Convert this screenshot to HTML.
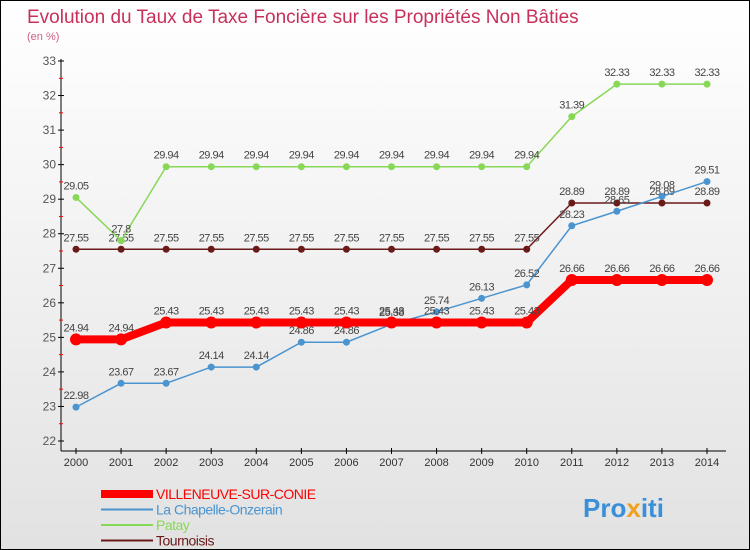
<!DOCTYPE html>
<html><head><meta charset="utf-8"><style>
body{margin:0}
#c{width:750px;height:550px;position:relative;border:1px solid #000;box-sizing:border-box;background:linear-gradient(#fff,#e2e2e2);overflow:hidden;font-family:"Liberation Sans",sans-serif}
</style></head><body>
<div id="c">
<svg id="s" width="750" height="550" style="position:absolute;left:0;top:0">
<text x="26" y="22" font-size="19" fill="#c8305a">Evolution du Taux de Taxe Foncière sur les Propriétés Non Bâties</text>
<text x="26" y="39" font-size="11" fill="#d0608a">(en %)</text>
<g id="axes"></g><g id="series"></g><g id="legend"></g>
<text x="582" y="516" font-size="26" font-weight="bold" fill="#3a8fd8">Pro<tspan fill="#f0a020">x</tspan>iti</text>
</svg>
</div>
<script>
const years=[2000,2001,2002,2003,2004,2005,2006,2007,2008,2009,2010,2011,2012,2013,2014];
const villeneuve=[24.94,24.94,25.43,25.43,25.43,25.43,25.43,25.43,25.43,25.43,25.43,26.66,26.66,26.66,26.66];
const chapelle=[22.98,23.67,23.67,24.14,24.14,24.86,24.86,25.38,25.74,26.13,26.52,28.23,28.65,29.08,29.51];
const patay=[29.05,27.8,29.94,29.94,29.94,29.94,29.94,29.94,29.94,29.94,29.94,31.39,32.33,32.33,32.33];
const tournoisis=[27.55,27.55,27.55,27.55,27.55,27.55,27.55,27.55,27.55,27.55,27.55,28.89,28.89,28.89,28.89];
const yTicks=[22,23,24,25,26,27,28,29,30,31,32,33];
const seriesNames=["VILLENEUVE-SUR-CONIE","La Chapelle-Onzerain","Patay","Tournoisis"];
const NS="http://www.w3.org/2000/svg";
const X=i=>75+i*(706-75)/(years.length-1);
const Y=v=>440-(v-22)*(380/11);
function mk(t,a,p){const e=document.createElementNS(NS,t);for(const k in a)e.setAttribute(k,a[k]);p.appendChild(e);return e;}
const ax=document.getElementById('axes');
let yl=mk('line',{x1:60,y1:58,x2:60,y2:450,stroke:'#000'},ax);


let xl=mk('line',{x1:60,y1:450,x2:725,y2:450,stroke:'#000'},ax);


yTicks.forEach(v=>{
 mk('line',{x1:57,y1:Y(v),x2:63,y2:Y(v),stroke:'#000'},ax);
 if(v<33)mk('line',{x1:58,y1:Y(v+0.5),x2:62,y2:Y(v+0.5),stroke:'#f00'},ax);
 const t=mk('text',{x:55,y:Y(v)+4,'font-size':12,fill:'#555','text-anchor':'end'},ax);t.textContent=v;
 
 
});
years.forEach((y,i)=>{
 mk('line',{x1:X(i),y1:447,x2:X(i),y2:453,stroke:'#000'},ax);
 const t=mk('text',{x:X(i),y:465,'font-size':11,fill:'#333','text-anchor':'middle'},ax);t.textContent=y;
 
 
});
const sg=document.getElementById('series');
function draw(data,color,w,r,name){
 const g=mk('g',{},sg);
 
 
 mk('polyline',{points:data.map((v,i)=>X(i)+','+Y(v)).join(' '),fill:'none',stroke:color,'stroke-width':w},g);
 data.forEach((v,i)=>{
  const c=mk('circle',{cx:X(i),cy:Y(v),r:r,fill:color},g);
  
  
  const t=mk('text',{x:X(i),y:Y(v)-8,'font-size':11,fill:'#444','text-anchor':'middle','letter-spacing':'-0.5'},g);t.textContent=v;
 });
}
draw(tournoisis,'#6b1a1a',1.5,3.5,'series-tournoisis');
draw(patay,'#88d858',1.5,3.5,'series-patay');
draw(chapelle,'#4a94d0',1.5,3.5,'series-la-chapelle');
draw(villeneuve,'#f00',8,6,'series-villeneuve');
const lg=document.getElementById('legend');
const lc=['#f00','#4a94d0','#88d858','#6b1a1a'],lw=[8,2,2,2];
seriesNames.forEach((n,i)=>{
 const y=493+i*15.5;
 const g=mk('g',{},lg);
 
 
 mk('line',{x1:100,y1:y,x2:152,y2:y,stroke:lc[i],'stroke-width':lw[i]},g);
 const t=mk('text',{x:155,y:y+5,'font-size':14,fill:lc[i],'letter-spacing':'-0.5'},g);t.textContent=n;
});
</script>
</body></html>
